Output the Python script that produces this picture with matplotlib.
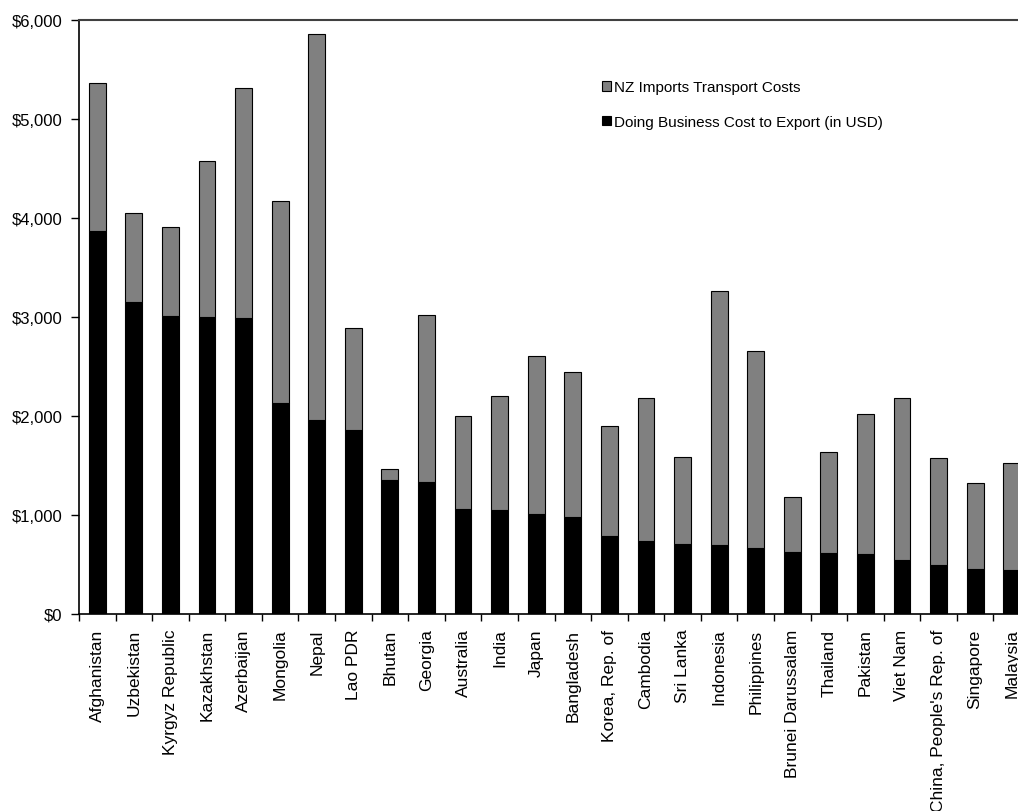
import matplotlib
matplotlib.use("Agg")
import matplotlib.pyplot as plt
from matplotlib.ticker import FuncFormatter, MultipleLocator
import numpy as np

countries = ["Afghanistan", "Uzbekistan", "Kyrgyz Republic", "Kazakhstan", "Azerbaijan",
             "Mongolia", "Nepal", "Lao PDR", "Bhutan", "Georgia", "Australia", "India",
             "Japan", "Bangladesh", "Korea, Rep. of", "Cambodia", "Sri Lanka", "Indonesia",
             "Philippines", "Brunei Darussalam", "Thailand", "Pakistan", "Viet Nam",
             "China, People's Rep. of", "Singapore", "Malaysia"]

# Doing Business cost to export (black, bottom)
export_cost = [3872, 3148, 3013, 3003, 2990, 2131, 1960, 1855, 1354, 1330, 1064, 1050,
               1010, 983, 788, 734, 707, 694, 670, 626, 616, 603, 549, 498, 455, 444]
# Total bar height (export cost + NZ imports transport costs)
total_height = [5367, 4050, 3906, 4576, 5313, 4172, 5859, 2889, 1465, 3024, 1997, 2205,
                2603, 2448, 1902, 2182, 1589, 3259, 2653, 1178, 1640, 2020, 2178, 1572, 1327, 1522]
nz_transport = [t - e for t, e in zip(total_height, export_cost)]

plt.rcParams['font.family'] = ['Liberation Sans', 'DejaVu Sans']

fig = plt.figure(figsize=(10.18, 8.12), dpi=100)
# axes extends beyond the right edge of the figure (chart is cropped)
left_px, right_px, bottom_px, top_px = 79, 1030, 615, 21
W, H = 1018, 812
ax = fig.add_axes([left_px / W, 1 - bottom_px / H, (right_px - left_px) / W, (bottom_px - top_px) / H])

x = np.arange(len(countries))
width = 0.46
ax.bar(x, export_cost, width, color='black', edgecolor='black', linewidth=0.8,
       label='Doing Business Cost to Export (in USD)', zorder=3)
ax.bar(x, nz_transport, width, bottom=export_cost, color='#808080', edgecolor='black',
       linewidth=0.8, label='NZ Imports Transport Costs', zorder=3)

ax.set_xlim(-0.5, len(countries) - 0.5)
ax.set_ylim(0, 6000)
ax.yaxis.set_major_locator(MultipleLocator(1000))
ax.yaxis.set_major_formatter(FuncFormatter(lambda v, p: f"${v:,.0f}"))

ax.set_xticks(x)
ax.set_xticklabels(countries, rotation=90, fontsize=12.5)
ax.tick_params(axis='x', length=0, pad=10.5)
# minor ticks between categories
ax.set_xticks(np.arange(-0.5, len(countries), 1), minor=True)
ax.tick_params(axis='x', which='minor', length=5, width=1, direction='out')
ax.tick_params(axis='y', length=6, width=1, direction='out', labelsize=12, pad=6)

ax.spines['right'].set_visible(False)
ax.spines['top'].set_color('#404040')
ax.spines['top'].set_linewidth(1.5)
ax.spines['left'].set_linewidth(1.2)
ax.spines['bottom'].set_linewidth(1.2)

handles, labels = ax.get_legend_handles_labels()
leg = ax.legend(handles[::-1], labels[::-1], loc='upper left',
                bbox_to_anchor=((596 - left_px) / (right_px - left_px), (bottom_px - 75) / (bottom_px - top_px)),
                frameon=False, fontsize=11, handlelength=0.55, handleheight=0.6,
                handletextpad=0.2, labelspacing=1.35, borderaxespad=0)

fig.savefig("out.png", dpi=100)
